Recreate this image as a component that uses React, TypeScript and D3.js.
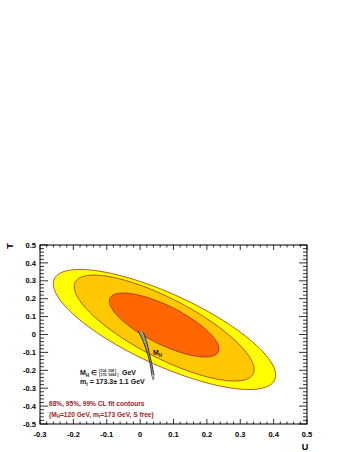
import * as d3 from 'd3';

// fit contours (outer to inner), ellipse = centre + cos(t)*major + sin(t)*minor
const contourLevels = ['99%', '95%', '68%'];
const centerU = [0.073, 0.072, 0.072];
const centerT = [0.028, 0.036, 0.053];
const majorU = [0.3296, 0.2652, 0.1618];
const majorT = [-0.2207, -0.1955, -0.1117];
const minorU = [-0.0486, -0.0472, -0.0277];
const minorT = [0.2525, 0.2223, 0.1394];

// SM prediction band (M_H scan)
const bandLeftU = [-0.0055, 0.0095, 0.0215, 0.0296, 0.0347];
const bandLeftT = [0.0196, -0.0402, -0.105, -0.1609, -0.2263];
const bandRightU = [0.0095, 0.0197, 0.0275, 0.0347, 0.0416];
const bandRightT = [0.0123, -0.0402, -0.105, -0.1609, -0.2263];
const arrowTip = [0.0395, -0.254];

const uTicks = [-0.3, -0.2, -0.1, 0, 0.1, 0.2, 0.3, 0.4, 0.5];
const tTicks = [-0.5, -0.4, -0.3, -0.2, -0.1, 0, 0.1, 0.2, 0.3, 0.4, 0.5];

const fillColors = ['#ffff00', '#ffc800', '#ff6600'];
const lineColor = '#8b1a00';
const red = '#9e1b1b';
const font = '"Liberation Sans", Arial, Helvetica, sans-serif';

const App = () => {
  const W = 350;
  const H = 452;
  const left = 40, right = 307, top = 245, bottom = 424;

  const x = d3.scaleLinear().domain([-0.3, 0.5]).range([left, right]);
  const y = d3.scaleLinear().domain([-0.5, 0.5]).range([bottom, top]);

  const line = d3.line<[number, number]>()
    .x(d => x(d[0]))
    .y(d => y(d[1]));

  const closed = d3.line<[number, number]>()
    .x(d => x(d[0]))
    .y(d => y(d[1]))
    .curve(d3.curveLinearClosed);

  const ellipse = (i: number) => {
    const pts: [number, number][] = d3.range(0, 2 * Math.PI, Math.PI / 90).map(t => [
      centerU[i] + Math.cos(t) * majorU[i] + Math.sin(t) * minorU[i],
      centerT[i] + Math.cos(t) * majorT[i] + Math.sin(t) * minorT[i],
    ]);
    return closed(pts);
  };

  const leftEdge: [number, number][] = bandLeftU.map((u, i) => [u, bandLeftT[i]]);
  const rightEdge: [number, number][] = bandRightU.map((u, i) => [u, bandRightT[i]]);
  const smooth = d3.line<[number, number]>().x(d => x(d[0])).y(d => y(d[1])).curve(d3.curveCatmullRom);
  const bandPath = smooth(leftEdge) + 'L' + smooth([...rightEdge].reverse())!.slice(1) + 'Z';

  const uTickPos = d3.range(-0.3, 0.5001, 0.02);
  const tTickPos = d3.range(-0.5, 0.5001, 0.02);

  const tickLabel = (v: number) => (v === 0 ? '0' : v.toFixed(1));

  return (
    <svg width={W} height={H} style={{ position: 'absolute', left: 0, top: 0, background: '#fff' }} fontFamily={font}>
      {/* contours */}
      {contourLevels.map((lvl, i) => (
        <path key={lvl} d={ellipse(i)!} fill={fillColors[i]} stroke={lineColor} strokeWidth={0.7} />
      ))}

      {/* M_H band */}
      <path d={bandPath} fill="#9a9a9a" stroke="none" />
      <path d={smooth(leftEdge)!} fill="none" stroke="#111" strokeWidth={0.8} />
      <path d={smooth(rightEdge)!} fill="none" stroke="#111" strokeWidth={0.8} />
      <path
        d={line([leftEdge[leftEdge.length - 1], [arrowTip[0], arrowTip[1]], rightEdge[rightEdge.length - 1]])!}
        fill="none" stroke="#555" strokeWidth={0.8}
      />
      <text x={153} y={355} fontSize={7} fontWeight="bold" fill="#111">
        M<tspan fontSize={4.5} dy={1.5}>H</tspan>
      </text>

      {/* legend text */}
      <text x={80} y={375} fontSize={7} fontWeight="bold" fill="#111">
        M<tspan fontSize={4.5} dy={1.5}>H</tspan><tspan dy={-1.5}> ∈</tspan>
      </text>
      <text x={99} y={371.5} fontSize={3.6} fontWeight="bold" fill="#111">[114, 158 ]</text>
      <text x={99} y={376} fontSize={3.6} fontWeight="bold" fill="#111">[175, 1000 ]</text>
      <text x={122} y={375} fontSize={7} fontWeight="bold" fill="#111">GeV</text>
      <text x={80} y={384} fontSize={7} fontWeight="bold" fill="#111">
        m<tspan fontSize={4.5} dy={1.5}>t</tspan><tspan dy={-1.5}> = 173.3± 1.1 GeV</tspan>
      </text>

      <text x={49} y={406} fontSize={6.6} fontWeight="bold" fill={red}>68%, 95%, 99% CL fit contours</text>
      <text x={49} y={416.5} fontSize={6.6} fontWeight="bold" fill={red}>
        (M<tspan fontSize={4.5} dy={1.5}>H</tspan><tspan dy={-1.5}>=120 GeV, m</tspan>
        <tspan fontSize={4.5} dy={1.5}>t</tspan><tspan dy={-1.5}>=173 GeV, S free)</tspan>
      </text>

      {/* frame */}
      <rect x={left} y={top} width={right - left} height={bottom - top} fill="none" stroke="#000" strokeWidth={1} />

      {/* ticks on all four sides */}
      <g stroke="#000" strokeWidth={0.8}>
        {uTickPos.map((v, i) => {
          const len = i % 5 === 0 ? 5 : 2.5;
          return (
            <g key={'xu' + i}>
              <line x1={x(v)} x2={x(v)} y1={bottom} y2={bottom - len} />
              <line x1={x(v)} x2={x(v)} y1={top} y2={top + len} />
            </g>
          );
        })}
        {tTickPos.map((v, i) => {
          const len = i % 5 === 0 ? 8 : 4;
          return (
            <g key={'yt' + i}>
              <line x1={left} x2={left + len} y1={y(v)} y2={y(v)} />
              <line x1={right} x2={right - len} y1={y(v)} y2={y(v)} />
            </g>
          );
        })}
      </g>

      {uTicks.map(v => (
        <text key={'ul' + v} x={x(v)} y={437} textAnchor="middle" fontSize={7.5} fontWeight="bold" fill="#000">
          {tickLabel(v)}
        </text>
      ))}
      {tTicks.map(v => (
        <text key={'tl' + v} x={36} y={y(v)} dy="0.35em" textAnchor="end" fontSize={7.5} fontWeight="bold" fill="#000">
          {tickLabel(v)}
        </text>
      ))}

      {/* axis titles */}
      <text transform={`translate(13,${top + 1}) rotate(-90)`} textAnchor="middle" fontSize={9} fontWeight="bold">T</text>
      <text x={305} y={450} textAnchor="middle" fontSize={9} fontWeight="bold">U</text>
    </svg>
  );
};

export default App;
